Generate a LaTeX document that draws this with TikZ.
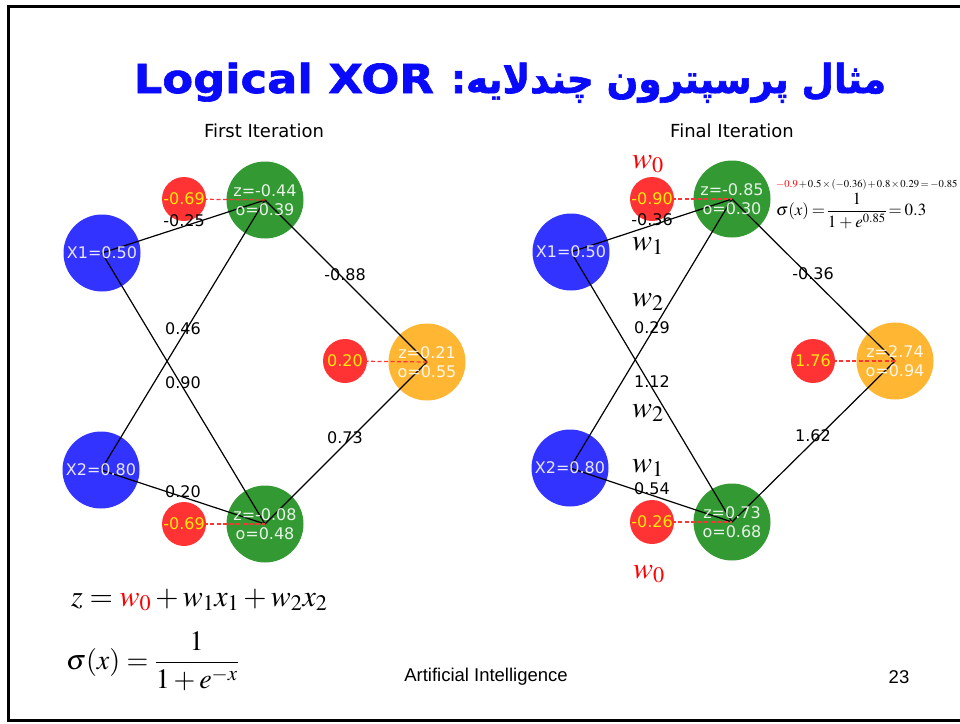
\documentclass[tikz,border=0pt]{standalone}
\usepackage{amsmath}
\usepackage{mathptmx}
\usepackage[no-math]{fontspec}
\setmainfont{Liberation Sans}
\newfontfamily\dv{DejaVu Sans}
\newfontfamily\titlefont[Script=Arabic, FakeStretch=0.93, BoldFeatures={FakeBold=1.6}]{DejaVu Sans}
\newfontfamily\latintitle[FakeStretch=1.12, BoldFeatures={FakeBold=1.6}]{DejaVu Sans}
\TeXXeTstate=1
\definecolor{cblue}{RGB}{51,51,255}
\definecolor{cgreen}{RGB}{51,153,51}
\definecolor{cred}{RGB}{255,51,51}
\definecolor{corange}{RGB}{255,183,51}
\definecolor{cyel}{RGB}{255,235,10}
\definecolor{ctitle}{RGB}{10,10,250}
\tikzset{
 bigc/.style={circle, inner sep=0pt, minimum size=77pt, draw=none},
 inp/.style={bigc, fill=cblue},
 hid/.style={bigc, fill=cgreen},
 outn/.style={bigc, fill=corange},
 bias/.style={circle, inner sep=0pt, minimum size=44pt, fill=cred, draw=none},
 ntext/.style={font=\dv\fontsize{16}{18.5}\selectfont, text=white, text opacity=0.88, align=center, inner sep=0pt},
 btext/.style={font=\dv\fontsize{16}{18.5}\selectfont, text=cyel, inner sep=0pt},
 wlab/.style={font=\dv\fontsize{16}{18}\selectfont, inner sep=0pt},
 conn/.style={black, line width=1.2pt},
 bdash/.style={cred, line width=1.2pt, dash pattern=on 4pt off 2.5pt},
 ttl/.style={font=\dv\fontsize{18}{20}\selectfont, inner sep=0pt},
 wsym/.style={font=\fontsize{30}{34}\selectfont, inner sep=0pt, anchor=base west},
}
\begin{document}
\begin{tikzpicture}[x=1pt,y=-1pt]
\useasboundingbox (0,0) rectangle (960,723);
\fill[white] (0,0) rectangle (960,723);
% frame
\draw[line width=3pt] (970,6) -- (8,6) -- (8,720) -- (970,720);
% title
\node[anchor=base, text=ctitle, inner sep=0pt] (title) at (510,93) {\titlefont\bfseries\fontsize{40}{46}\selectfont\beginR مثال پرسپترون چندلایه: \beginL{\latintitle\bfseries Logical XOR}\endL\endR};
% ---------- left network ----------
\node[ttl] (t1) at (264,131) {First Iteration};
\node[inp] (lx1) at (102,253) {};
\node[inp] (lx2) at (101,470) {};
\node[hid] (lh1) at (265,200) {};
\node[hid] (lh2) at (265,524) {};
\node[outn] (lo) at (427,362) {};
\coordinate (lb1c) at (184,199);
\coordinate (lb2c) at (184,524);
\coordinate (lboc) at (345,361);
\draw[conn] (lx1.center) -- (lh1.center);
\draw[conn] (lx2.center) -- (lh1.center);
\draw[conn] (lx1.center) -- (lh2.center);
\draw[conn] (lx2.center) -- (lh2.center);
\draw[conn] (lh1.center) -- (lo.center);
\draw[conn] (lh2.center) -- (lo.center);
\draw[bdash] (lb1c) -- (lh1.center);
\draw[bdash] (lb2c) -- (lh2.center);
\draw[bdash] (lboc) -- (lo.center);
\node[bias] (lb1) at (lb1c) {};
\node[bias] (lb2) at (lb2c) {};
\node[bias] (lbo) at (lboc) {};
\node[ntext] (lx1t) at (lx1.center) {X1=0.50};
\node[ntext] (lx2t) at (lx2.center) {X2=0.80};
\node[ntext] (lh1t) at (lh1.center) {z=-0.44\\o=0.39};
\node[ntext] (lh2t) at (lh2.center) {z=-0.08\\o=0.48};
\node[ntext] (lot) at (lo.center) {z=0.21\\o=0.55};
\node[btext] (lb1t) at (lb1.center) {-0.69};
\node[btext] (lb2t) at (lb2.center) {-0.69};
\node[btext] (lbot) at (lbo.center) {0.20};
\node[wlab] (le1) at (184,221) {-0.25};
\node[wlab] (le2) at (183,329) {0.46};
\node[wlab] (le3) at (183,383) {0.90};
\node[wlab] (le4) at (183,492) {0.20};
\node[wlab] (le5) at (345,275) {-0.88};
\node[wlab] (le6) at (345,438) {0.73};
% ---------- right network ----------
\node[ttl] (t2) at (732,131) {Final Iteration};
\node[inp] (rx1) at (571,252) {};
\node[inp] (rx2) at (570,468) {};
\node[hid] (rh1) at (732,199) {};
\node[hid] (rh2) at (732,522) {};
\node[outn] (ro) at (895,361) {};
\coordinate (rb1c) at (652,199);
\coordinate (rb2c) at (652,522);
\coordinate (rboc) at (813,361);
\draw[conn] (rx1.center) -- (rh1.center);
\draw[conn] (rx2.center) -- (rh1.center);
\draw[conn] (rx1.center) -- (rh2.center);
\draw[conn] (rx2.center) -- (rh2.center);
\draw[conn] (rh1.center) -- (ro.center);
\draw[conn] (rh2.center) -- (ro.center);
\draw[bdash] (rb1c) -- (rh1.center);
\draw[bdash] (rb2c) -- (rh2.center);
\draw[bdash] (rboc) -- (ro.center);
\node[bias] (rb1) at (rb1c) {};
\node[bias] (rb2) at (rb2c) {};
\node[bias] (rbo) at (rboc) {};
\node[ntext] (rx1t) at (rx1.center) {X1=0.50};
\node[ntext] (rx2t) at (rx2.center) {X2=0.80};
\node[ntext] (rh1t) at (rh1.center) {z=-0.85\\o=0.30};
\node[ntext] (rh2t) at (rh2.center) {z=0.73\\o=0.68};
\node[ntext] (rot) at (ro.center) {z=2.74\\o=0.94};
\node[btext] (rb1t) at (rb1.center) {-0.90};
\node[btext] (rb2t) at (rb2.center) {-0.26};
\node[btext] (rbot) at (rbo.center) {1.76};
\node[wlab] (re1) at (652,220) {-0.36};
\node[wlab] (re2) at (652,328) {0.29};
\node[wlab] (re3) at (652,382) {1.12};
\node[wlab] (re4) at (652,489) {0.54};
\node[wlab] (re5) at (813,274) {-0.36};
\node[wlab] (re6) at (813,436) {1.62};
% w labels
\node[wsym] (w0a) at (632,168) {$\color{red}w_0$};
\node[wsym] (w1a) at (632,250) {$w_1$};
\node[wsym] (w2a) at (632,306) {$w_2$};
\node[wsym] (w2b) at (632,417) {$w_2$};
\node[wsym] (w1b) at (632,472) {$w_1$};
\node[wsym] (w0b) at (633,578) {$\color{red}w_0$};
% small formulas
\node[anchor=base west, inner sep=0pt] (fa) at (776,187) {\fontsize{10.6}{13}\selectfont\medmuskip=1.5mu\thickmuskip=2.5mu $\color{red}-0.9\color{black}+0.5\times(-0.36)+0.8\times0.29=-0.85$};
\node[anchor=west, inner sep=0pt] (fb) at (776,211) {\fontsize{17}{20}\selectfont\medmuskip=3mu\thickmuskip=3mu\nulldelimiterspace=0pt $\sigma(x)=\dfrac{1}{1+e^{0.85}}=0.3$};
% bottom formulas
\node[anchor=base west, inner sep=0pt] (fz) at (71,606) {\fontsize{30}{34}\selectfont $z=\color{red}w_0\color{black}+w_1x_1+w_2x_2$};
\node[anchor=west, inner sep=0pt] (fs) at (66,661) {\fontsize{28}{32}\selectfont $\sigma(x)=\dfrac{1}{1+e^{-x}}$};
% footer
\node[inner sep=0pt] (ai) at (486,677) {\fontsize{18.5}{20}\selectfont Artificial Intelligence};
\node[inner sep=0pt] (pg) at (899,677) {\fontsize{18.5}{20}\selectfont 23};
\end{tikzpicture}
\end{document}
